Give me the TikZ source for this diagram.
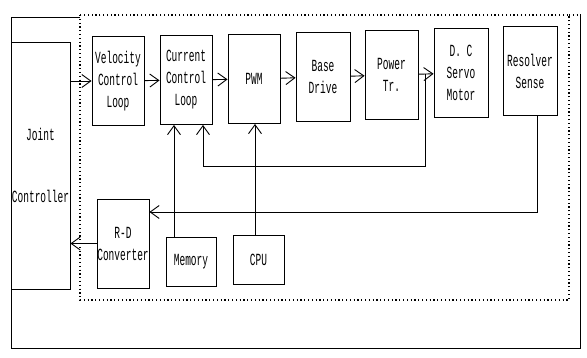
\documentclass[tikz,border=0pt]{standalone}
\usepackage{fontspec}
\newfontfamily\dotfont{Liberation Mono}[FakeStretch=0.56]
\usetikzlibrary{arrows.meta}

\begin{document}
\begin{tikzpicture}[x=1pt, y=-1pt, >={Straight Barb[length=9pt,width=13pt]},
  blk/.style={draw, line width=0.9pt, minimum width=52pt, minimum height=89pt, inner sep=0pt, align=center, font=\dotfont\fontsize{17}{22}\selectfont},
  small/.style={blk, minimum width=50pt, minimum height=49pt},
  flow/.style={->, line width=0.9pt},
  wire/.style={line width=0.9pt},
  frame/.style={line width=1.2pt, dash pattern=on 1.2pt off 2.6pt}
]
\useasboundingbox (0,0) rectangle (587,358);
% outer frame and dotted servo unit
\draw[wire] (80,17) -- (11,17) -- (11,348) -- (580,348) -- (580,14);
\draw[frame] (80,15) rectangle (569,300);
\draw[frame] (569,15) -- (580,15);
% blocks
\node[blk, minimum width=59pt, minimum height=247pt] (joint) at (40.5,165.5) {Joint\\[40pt]Controller};
\node[blk] (vcl) at (118,81) {Velocity\\Control\\Loop};
\node[blk] (ccl) at (186,80) {Current\\Control\\Loop};
\node[blk] (pwm) at (254,79) {PWM};
\node[blk, minimum width=54pt] (base) at (323,77) {Base\\Drive};
\node[blk, minimum width=53pt] (power) at (391.5,75) {Power\\Tr.};
\node[blk, minimum width=54pt] (dcm) at (461,73) {D. C\\Servo\\Motor};
\node[blk, minimum width=54pt] (res) at (530,71) {Resolver\\Sense};
\node[blk] (rd) at (123,243.5) {R-D\\Converter};
\node[small] (mem) at (191,261.5) {Memory};
\node[small, minimum width=51pt] (cpu) at (258.5,259.5) {CPU};
% forward path
\draw[flow] (vcl.west -| joint.east) -- (vcl.west);
\draw[flow] (vcl) -- (ccl);
\draw[flow] (ccl) -- (pwm);
\draw[flow] (pwm) -- (base);
\draw[flow] (base) -- (power);
\draw[flow] (power) -- (dcm);
% current feedback
\coordinate (tap) at (425,74);
\coordinate (fb) at (203,166);
\draw[flow] (tap) |- (fb) -- (fb |- ccl.south);
% memory and cpu
\draw[flow] (mem.north -| 174,0) -- (174,0 |- ccl.south);
\draw[flow] (cpu.north -| 255,0) -- (255,0 |- pwm.south);
% resolver feedback
\coordinate (rs) at (537,212);
\draw[flow] (res.south -| rs) -- (rs) -- (rs -| rd.east);
\draw[flow] (rd.west) -- (rd.west -| joint.east);
\end{tikzpicture}
\end{document}
